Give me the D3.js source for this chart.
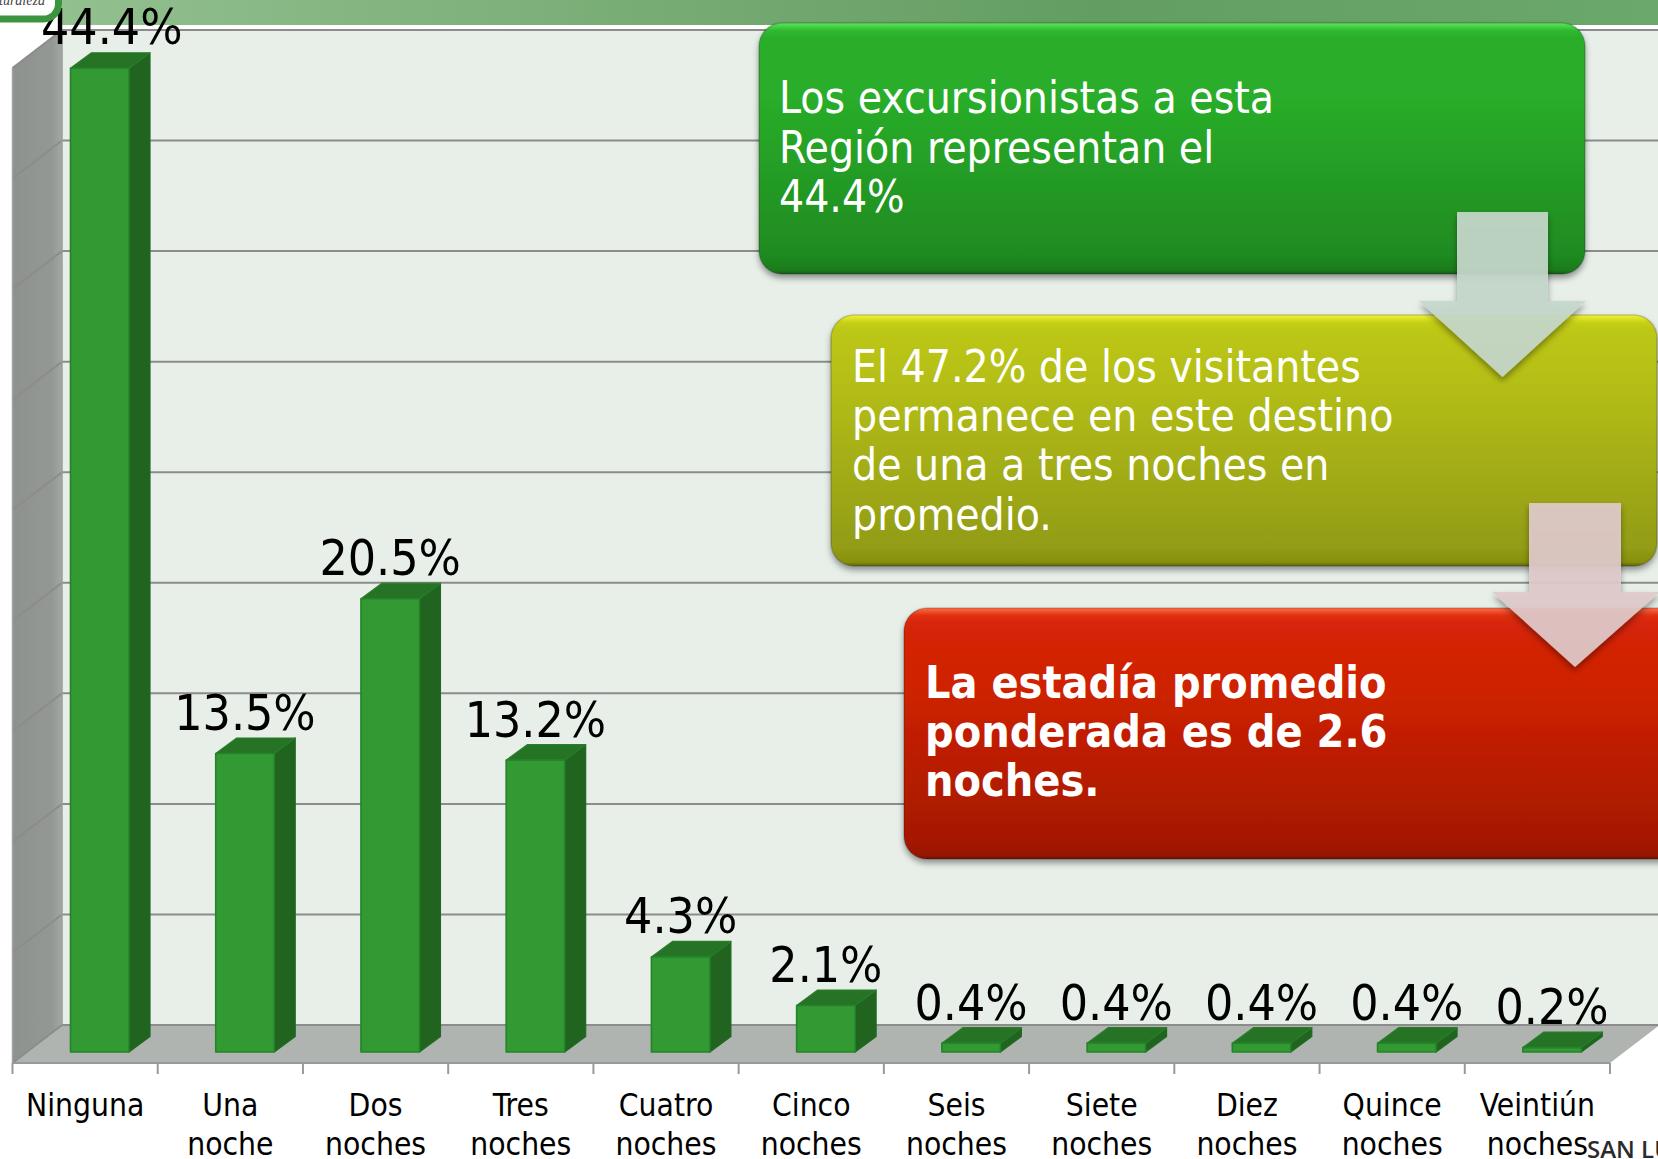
<!DOCTYPE html>
<html><head><meta charset="utf-8">
<script src="https://cdn.jsdelivr.net/npm/d3@7/dist/d3.min.js"></script>
<style>html,body{margin:0;padding:0;background:#fff;overflow:hidden}svg{display:block}
text{font-family:"DejaVu Sans Condensed","DejaVu Sans",sans-serif}</style>
</head><body><svg id="c" width="1658" height="1159"></svg>
<script>
const categories=[["Ninguna"],["Una","noche"],["Dos","noches"],["Tres","noches"],["Cuatro","noches"],["Cinco","noches"],["Seis","noches"],["Siete","noches"],["Diez","noches"],["Quince","noches"],["Veintiún","noches"]];
const values=[44.4,13.5,20.5,13.2,4.3,2.1,0.4,0.4,0.4,0.4,0.2];
const labels=["44.4%","13.5%","20.5%","13.2%","4.3%","2.1%","0.4%","0.4%","0.4%","0.4%","0.2%"];
const greenLines=["Los excursionistas a esta","Región representan el","44.4%"];
const yellowLines=["El 47.2% de los visitantes","permanece en este destino","de una a tres noches en","promedio."];
const redLines=["La estadía promedio","ponderada es de 2.6","noches."];

const svg=d3.select("#c"),defs=svg.append("defs");
const W=1658,H=1159,depthX=49.5,depthY=38,barDX=21,barDY=15.5,barInsetY=11,barOffset=58,barW=58.5;
const idx=d3.range(values.length);
const x=d3.scaleBand().domain(idx).range([12.5,1610]);
const y=d3.scaleLinear().domain([0,45]).range([1063,68]);
const pts=a=>a.map(p=>p.join(",")).join(" ");
function grad(id,stops,horizontal){const g=defs.append("linearGradient").attr("id",id).attr("x1",0).attr("y1",0).attr("x2",horizontal?1:0).attr("y2",horizontal?0:1);
 stops.forEach(s=>g.append("stop").attr("offset",s[0]).attr("stop-color",s[1]));}
grad("wall",[[0,"#8e928e"],[.8,"#949894"],[1,"#a4a8a4"]],true);
grad("hdr",[[0,"#92c08f"],[.35,"#79ad76"],[.65,"#639d62"],[1,"#6ba86b"]],true);
grad("gG",[[0,"#5ae85a"],[.03,"#2fb92f"],[.06,"#29ae29"],[.3,"#29ad29"],[.93,"#1f8a20"],[.985,"#1c7a1c"],[1,"#155c15"]]);
grad("gY",[[0,"#f2f430"],[.03,"#c6d018"],[.06,"#bcc714"],[.3,"#b3bd14"],[.93,"#929c12"],[.985,"#858f10"],[1,"#5d650a"]]);
grad("gR",[[0,"#ff6e4c"],[.03,"#e0300f"],[.06,"#d62507"],[.3,"#cf2205"],[.93,"#a51805"],[.985,"#961504"],[1,"#6f1003"]]);
const sh=defs.append("filter").attr("id","sh").attr("x","-5%").attr("y","-5%").attr("width","110%").attr("height","115%");
sh.append("feDropShadow").attr("dx",0).attr("dy",4).attr("stdDeviation",3).attr("flood-color","#000").attr("flood-opacity",.4);

// header
svg.append("rect").attr("x",62).attr("y",0).attr("width",W-62).attr("height",25).attr("fill","url(#hdr)");

// back wall, side wall, floor
const yBack=v=>y(v)-depthY;
svg.append("rect").attr("x",x.range()[0]+depthX).attr("y",yBack(45)).attr("width",W).attr("height",y(0)-y(45)).attr("fill","#e8efe9");
svg.append("polygon").attr("points",pts([[12.5,y(0)],[12.5,y(45)],[62,yBack(45)],[62,yBack(0)]])).attr("fill","url(#wall)");
svg.append("polygon").attr("points",pts([[12.5,y(0)],[1610,y(0)],[1610+depthX,yBack(0)],[62,yBack(0)]])).attr("fill","#b0b4b0");
const grid=svg.append("g").attr("fill","none").attr("stroke","#8c8c8c").attr("stroke-width",2);
y.ticks(9).forEach(t=>{
 grid.append("polyline").attr("points",pts([[12.5,y(t)],[62,yBack(t)],[W,yBack(t)]]));
});
svg.append("line").attr("x1",62).attr("x2",62).attr("y1",yBack(45)).attr("y2",yBack(0)).attr("stroke","#9a9e9a").attr("stroke-width",1.5);
svg.append("line").attr("x1",12.5).attr("x2",12.5).attr("y1",y(45)).attr("y2",y(0)).attr("stroke","#a0a4a0").attr("stroke-width",1.5);
// x axis
const ax=svg.append("g").attr("stroke","#999").attr("stroke-width",2);
ax.append("line").attr("x1",12.5).attr("x2",1610).attr("y1",y(0)).attr("y2",y(0));
idx.concat([values.length]).forEach(i=>{const tx=x.range()[0]+i*x.step();
 ax.append("line").attr("x1",tx).attr("x2",tx).attr("y1",y(0)).attr("y2",y(0)+11);});

// bars
idx.forEach(i=>{
 const x0=x(i)+barOffset,x1=x0+barW;
 const yb=y(0)-barInsetY,yt=yb-(y(0)-y(values[i]))-(values[i]>40?2:0);
 const g=svg.append("g").attr("stroke-linejoin","round");
 g.append("polygon").attr("points",pts([[x1,yb],[x1,yt],[x1+barDX,yt-barDY],[x1+barDX,yb-barDY]])).attr("fill","#20641f").attr("stroke","#1f6b22").attr("stroke-width",1.2);
 g.append("polygon").attr("points",pts([[x0,yt],[x0+barDX,yt-barDY],[x1+barDX,yt-barDY],[x1,yt]])).attr("fill","#267326").attr("stroke","#2a7d2a").attr("stroke-width",1.2);
 g.append("rect").attr("x",x0).attr("y",yt).attr("width",barW).attr("height",yb-yt).attr("fill","#339933").attr("stroke","#23842a").attr("stroke-width",1.6);
 // the tallest bar's label sits off-centre in the reference, nudged away from the logo
 svg.append("text").attr("x",x0+barW/2+(i===0?12:0)).attr("y",yt-barDY-8-(i===0?1:0)).attr("text-anchor","middle").attr("font-size",49.5).attr("fill","#000").text(labels[i]);
 categories[i].forEach((l,k)=>svg.append("text").attr("x",x(i)+x.bandwidth()/2).attr("y",1116+k*39).attr("text-anchor","middle").attr("font-size",31.5).attr("fill","#000").text(l));
});

// logo
svg.append("rect").attr("x",-40).attr("y",-30).attr("width",98.5).attr("height",49).attr("rx",15).attr("fill","#fff").attr("stroke","#3a9440").attr("stroke-width",7);
svg.append("text").attr("x",-15).attr("y",5).attr("font-size",14).attr("font-style","italic").attr("fill","#444").style("font-family","'Liberation Serif',serif").text("naturaleza");

// callouts
function box(bx,by,bw,bh,fill,lines,tx,base,lh,bold){
 svg.append("rect").attr("x",bx).attr("y",by).attr("width",bw).attr("height",bh).attr("rx",23).attr("fill",`url(#${fill})`).attr("stroke","#000").attr("stroke-opacity",.18).attr("stroke-width",1.5).attr("filter","url(#sh)");
 const t=svg.append("g").attr("fill","#fff").attr("font-size",bold?44.5:44).attr("font-weight",bold?700:400);
 lines.forEach((l,k)=>t.append("text").attr("x",tx).attr("y",base+k*lh).text(l));
}
box(759,23,826,251,"gG",greenLines,779,113,49.6);
box(831,315,826,251,"gY",yellowLines,852,381.5,49.4);
box(904,608,826,251,"gR",redLines,925,698,49,true);

// arrows
function arrow(l,r,top,neck,hl,hr,tipY,fill){
 svg.append("polygon").attr("points",pts([[l,top],[r,top],[r,neck],[hr,neck],[(l+r)/2,tipY],[hl,neck],[l,neck]]))
  .attr("fill",fill).attr("fill-opacity",.92).attr("filter","url(#sh)");
}
arrow(1457,1548,212,301,1419,1586,377,"#c6d8cb");
arrow(1529,1621,503,592,1492,1660,667,"#dfcaca");

svg.append("text").attr("x",1587).attr("y",1158).attr("font-size",24).attr("font-weight",600).attr("fill","#2b2b2b").style("font-family","'Open Sans',sans-serif").text("SAN LU");
</script></body></html>
